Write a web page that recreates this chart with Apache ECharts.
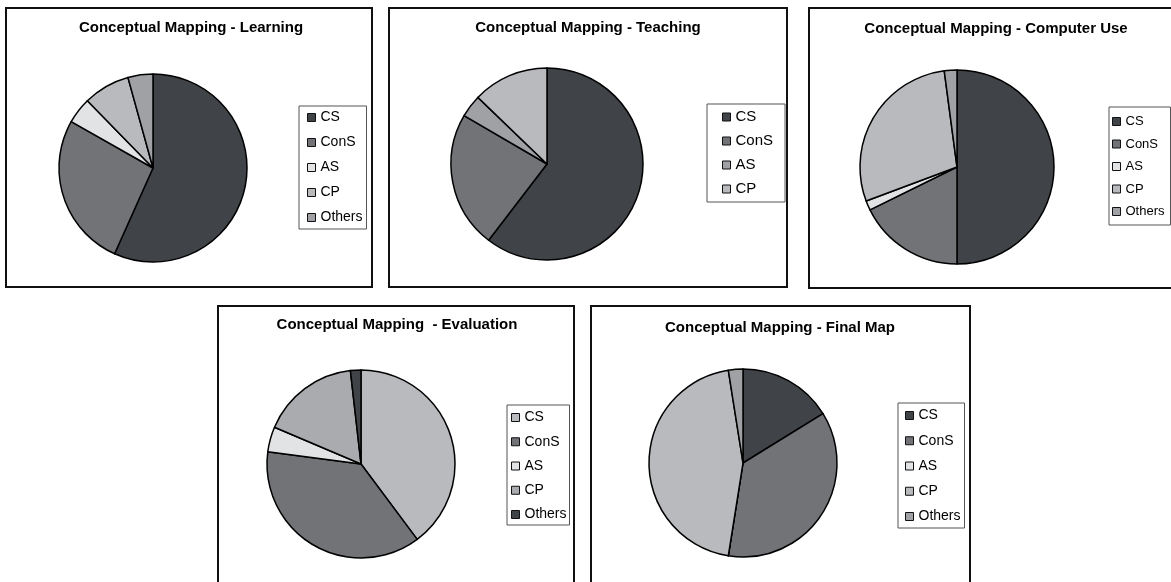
<!DOCTYPE html>
<html>
<head>
<meta charset="utf-8">
<script src="https://cdn.jsdelivr.net/npm/echarts@6/dist/echarts.min.js"></script>
<style>
  html, body { margin: 0; padding: 0; background: #fff; }
  body { width: 1171px; height: 582px; position: relative; overflow: hidden; }
  .panel { position: absolute; box-sizing: border-box; border: 2px solid #111; background: #fff; }
  .panel > div { width: 100%; height: 100%; }
</style>
</head>
<body>
<div class="panel" id="p1" style="left:5px; top:7px; width:368px; height:281px;"><div></div></div>
<div class="panel" id="p2" style="left:388px; top:7px; width:400px; height:281px;"><div></div></div>
<div class="panel" id="p3" style="left:808px; top:7px; width:400px; height:282px;"><div></div></div>
<div class="panel" id="p4" style="left:217px; top:305px; width:358px; height:300px;"><div></div></div>
<div class="panel" id="p5" style="left:590px; top:305px; width:381px; height:300px;"><div></div></div>

<script>
// categories
const catsFive = ['CS', 'ConS', 'AS', 'CP', 'Others'];
const catsFour = ['CS', 'ConS', 'AS', 'CP'];

// share of each category (%)
const learningValues = [56.7, 26.5, 4.5, 8.0, 4.3];
const teachingValues = [60.4, 23.0, 3.8, 12.8];
const computerUseValues = [50.0, 17.7, 1.6, 28.6, 2.1];
const evaluationValues = [39.8, 37.3, 4.3, 16.8, 1.8];
const finalMapValues = [16.2, 36.3, 0, 45.0, 2.5];

const titles = [
  'Conceptual Mapping - Learning',
  'Conceptual Mapping - Teaching',
  'Conceptual Mapping - Computer Use',
  'Conceptual Mapping  - Evaluation',
  'Conceptual Mapping - Final Map'
];

// grey shades used by the original
const DARK = '#404347', MID = '#717377', LIGHT = '#e2e3e5', PALE = '#b9babd', GREY = '#9fa1a5';

const FONT = "'Liberation Sans', Arial, sans-serif";

// layout of each panel (px, relative to the panel's inner box)
const panels = [
  { id: 'p1', cats: catsFive, values: learningValues, colors: [DARK, MID, LIGHT, PALE, GREY],
    titleX: 184, titleY: 11, center: [146, 159], r: 94,
    legend: { left: 292, top: 97, font: 14, lh: 15, gap: 10, pad: [4, 4, 4, 8] } },
  { id: 'p2', cats: catsFour, values: teachingValues, colors: [DARK, MID, GREY, PALE],
    titleX: 198, titleY: 11, center: [157, 155], r: 96,
    legend: { left: 317, top: 95, font: 15, lh: 16, gap: 8, pad: [5, 12, 5, 15] } },
  { id: 'p3', cats: catsFive, values: computerUseValues, colors: [DARK, MID, LIGHT, PALE, GREY],
    titleX: 186, titleY: 12, center: [147, 158], r: 97,
    legend: { left: 299, top: 98, font: 13, lh: 13, gap: 9.5, pad: [8, 6, 7, 3] } },
  { id: 'p4', cats: catsFive, values: evaluationValues, colors: [PALE, MID, LIGHT, '#a9abae', DARK],
    titleX: 178, titleY: 10, center: [142, 157], r: 94,
    legend: { left: 288, top: 98, font: 14, lh: 15, gap: 9.25, pad: [5, 3, 3, 4] } },
  { id: 'p5', cats: catsFive, values: finalMapValues, colors: [DARK, MID, LIGHT, PALE, GREY],
    titleX: 188, titleY: 13, center: [151, 156], r: 94,
    legend: { left: 306, top: 96, font: 14, lh: 15, gap: 10.25, pad: [5, 4, 4, 7] } }
];

panels.forEach(function (p, i) {
  const chart = echarts.init(document.querySelector('#' + p.id + ' > div'));
  chart.setOption({
    animation: false,
    textStyle: { fontFamily: FONT },
    title: {
      text: titles[i],
      left: p.titleX,
      top: p.titleY,
      textAlign: 'center',
      padding: 0,
      textStyle: { fontFamily: FONT, fontSize: 15, fontWeight: 'bold', color: '#000' }
    },
    legend: {
      orient: 'vertical',
      left: p.legend.left,
      top: p.legend.top,
      data: p.cats,
      icon: 'rect',
      itemWidth: 8,
      itemHeight: 8,
      itemGap: p.legend.gap,
      padding: p.legend.pad,
      borderColor: '#555',
      borderWidth: 1,
      selectedMode: false,
      itemStyle: { borderColor: '#111', borderWidth: 1 },
      textStyle: { fontFamily: FONT, fontSize: p.legend.font, lineHeight: p.legend.lh, color: '#000' }
    },
    series: [{
      type: 'pie',
      center: p.center,
      radius: p.r,
      startAngle: 90,
      clockwise: true,
      label: { show: false },
      labelLine: { show: false },
      emphasis: { disabled: true },
      itemStyle: { borderColor: '#000', borderWidth: 1.5 },
      data: p.cats.map(function (c, k) {
        return { name: c, value: p.values[k], itemStyle: { color: p.colors[k] } };
      })
    }]
  });
});
</script>
</body>
</html>
